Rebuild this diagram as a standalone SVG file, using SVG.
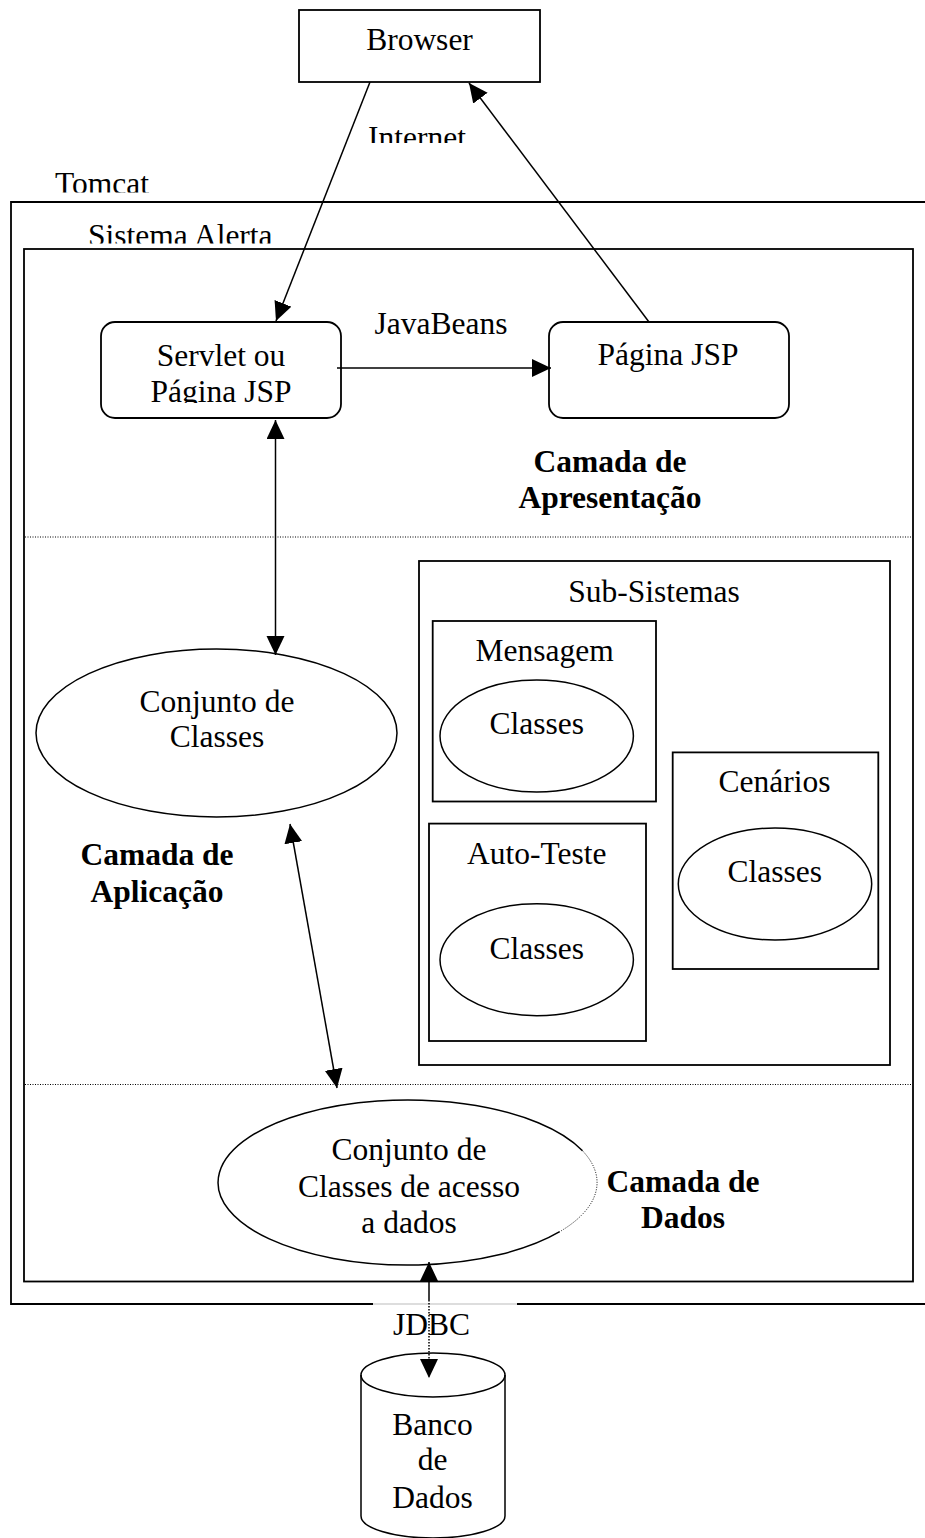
<svg xmlns="http://www.w3.org/2000/svg" width="925" height="1538" viewBox="0 0 925 1538">
  <style>
    text { font-family: "Liberation Serif", "Times New Roman", serif; font-size: 31.5px; fill: #000; }
    .c { text-anchor: middle; }
    .b { font-weight: bold; }
    .box { fill: none; stroke: #000; stroke-width: 1.8; }
    .shape { fill: none; stroke: #000; stroke-width: 1.5; }
    .dot { fill: none; stroke: #000; stroke-width: 1; stroke-dasharray: 1 1.5; }
    .edge { fill: none; stroke: #000; stroke-width: 1.5; }
  </style>
  <defs>
    <marker id="arrow" markerUnits="userSpaceOnUse" markerWidth="20" markerHeight="20" refX="19" refY="9" orient="auto-start-reverse">
      <path d="M0,0 L19,9 L0,18 z" fill="#000"/>
    </marker>
    <clipPath id="clipInternet"><rect x="300" y="100" width="250" height="43"/></clipPath>
    <clipPath id="clipTomcat"><rect x="40" y="160" width="200" height="32.5"/></clipPath>
    <clipPath id="clipAlerta"><rect x="60" y="210" width="260" height="33.5"/></clipPath>
    <clipPath id="clipServlet"><rect x="100" y="322" width="242" height="81"/></clipPath>
  </defs>

  <rect width="925" height="1538" fill="#fff"/>

  <!-- Tomcat container (right side runs off the page) -->
  <g id="tomcat">
    <path class="box" d="M940 202 H11 V1304 H373"/>
    <path class="box" d="M517 1304 H940"/>
    <path d="M373 1304 H517" stroke="#bbb" stroke-width="1" fill="none"/>
    <text x="55" y="194" clip-path="url(#clipTomcat)">Tomcat</text>
  </g>

  <!-- Sistema Alerta container with layer separators -->
  <g id="sistema-alerta">
    <rect class="box" x="24" y="249" width="889" height="1032.5"/>
    <text x="88" y="246" clip-path="url(#clipAlerta)">Sistema Alerta</text>
    <line class="dot" x1="25" y1="537" x2="912" y2="537"/>
    <line class="dot" x1="25" y1="1084.5" x2="912" y2="1084.5"/>
  </g>

  <g id="browser">
    <rect class="box" x="299" y="10" width="241" height="72"/>
    <text class="c" x="419.5" y="50">Browser</text>
  </g>

  <g id="servlet">
    <rect class="box" x="101" y="322" width="240" height="96" rx="14"/>
    <g clip-path="url(#clipServlet)">
      <text class="c" x="221" y="366">Servlet ou</text>
      <text class="c" x="221" y="402">Página JSP</text>
    </g>
  </g>

  <g id="pagina-jsp">
    <rect class="box" x="549" y="322" width="240" height="96" rx="14"/>
    <text class="c" x="668" y="365">Página JSP</text>
  </g>

  <g id="camada-apresentacao">
    <text class="c b" x="610" y="472">Camada de</text>
    <text class="c b" x="610" y="508">Apresentação</text>
  </g>

  <g id="conjunto-classes">
    <ellipse class="shape" cx="216.5" cy="733" rx="180.5" ry="84"/>
    <text class="c" x="217" y="712">Conjunto de</text>
    <text class="c" x="217" y="747">Classes</text>
  </g>

  <g id="camada-aplicacao">
    <text class="c b" x="157" y="865">Camada de</text>
    <text class="c b" x="157" y="902">Aplicação</text>
  </g>

  <g id="sub-sistemas">
    <rect class="box" x="419" y="561" width="471" height="504"/>
    <text class="c" x="654" y="602">Sub-Sistemas</text>
  </g>

  <g id="mensagem">
    <rect class="box" x="432.7" y="621" width="223.3" height="180.5"/>
    <text class="c" x="544.7" y="660.5">Mensagem</text>
    <ellipse class="shape" cx="536.7" cy="736" rx="96.7" ry="56"/>
    <text class="c" x="536.7" y="734">Classes</text>
  </g>

  <g id="auto-teste">
    <rect class="box" x="429" y="823.6" width="217" height="217.4"/>
    <text class="c" x="536.7" y="864">Auto-Teste</text>
    <ellipse class="shape" cx="536.7" cy="959.7" rx="96.7" ry="56"/>
    <text class="c" x="536.7" y="958.6">Classes</text>
  </g>

  <g id="cenarios">
    <rect class="box" x="672.7" y="752.4" width="205.6" height="216.6"/>
    <text class="c" x="774.5" y="792">Cenários</text>
    <ellipse class="shape" cx="775" cy="884" rx="96.7" ry="56"/>
    <text class="c" x="774.7" y="881.5">Classes</text>
  </g>

  <g id="acesso-dados">
    <path class="shape" d="M582.5 1150.8 A189.5 82.5 0 1 0 559.7 1231.7"/>
    <path class="dot" d="M582.5 1150.8 A189.5 82.5 0 0 1 559.7 1231.7"/>
    <text class="c" x="409" y="1160">Conjunto de</text>
    <text class="c" x="409" y="1196.7">Classes de acesso</text>
    <text class="c" x="409" y="1233">a dados</text>
  </g>

  <g id="camada-dados">
    <text class="c b" x="683" y="1192">Camada de</text>
    <text class="c b" x="683" y="1228">Dados</text>
  </g>

  <g id="banco-dados">
    <path class="shape" d="M361 1375 V1516 A72 22 0 0 0 505 1516 V1375"/>
    <ellipse class="shape" cx="433" cy="1375" rx="72" ry="22" fill="#fff"/>
    <text class="c" x="432.5" y="1435">Banco</text>
    <text class="c" x="432.5" y="1470">de</text>
    <text class="c" x="432.5" y="1508">Dados</text>
  </g>

  <!-- connectors -->
  <g id="connectors">
    <line class="edge" x1="370" y1="82" x2="276" y2="321" marker-end="url(#arrow)"/>
    <text class="c" x="417" y="148" clip-path="url(#clipInternet)">Internet</text>
    <line class="edge" x1="649" y1="322" x2="469" y2="83" marker-end="url(#arrow)"/>
    <line class="edge" x1="337" y1="368" x2="551" y2="368" marker-end="url(#arrow)"/>
    <text class="c" x="441" y="334">JavaBeans</text>
    <line class="edge" x1="275.5" y1="420" x2="275.5" y2="655" marker-start="url(#arrow)" marker-end="url(#arrow)"/>
    <line class="edge" x1="290" y1="824" x2="337" y2="1088" marker-start="url(#arrow)" marker-end="url(#arrow)"/>
    <line class="edge" x1="429" y1="1262" x2="429" y2="1300" marker-start="url(#arrow)"/>
    <line x1="429" y1="1300" x2="429" y2="1378" stroke="#000" stroke-width="1.5" stroke-dasharray="1.5 1.5" marker-end="url(#arrow)"/>
    <text class="c" x="431.5" y="1335">JDBC</text>
  </g>
</svg>
